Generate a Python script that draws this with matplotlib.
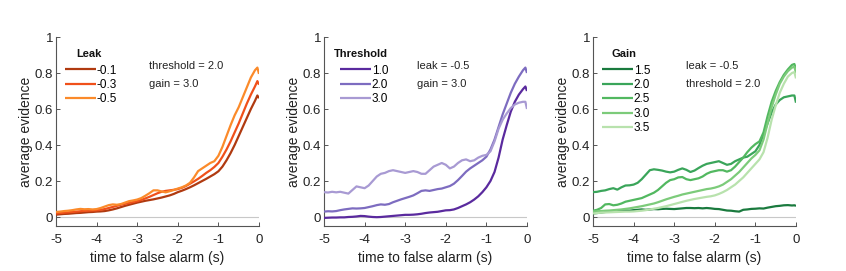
import numpy as np
import matplotlib
matplotlib.use("Agg")
import matplotlib.pyplot as plt

plt.rcParams['font.family'] = ['Liberation Sans', 'DejaVu Sans']
plt.rcParams['axes.unicode_minus'] = False

# time grid (s before false alarm)
t = np.concatenate([np.round(np.arange(-5.0, -0.05, 0.1), 2), [-0.04, 0.0]])

# ---- Panel 1: Leak (threshold = 2.0, gain = 3.0)
leak_labels = ["-0.1", "-0.3", "-0.5"]
leak_m01 = [0.013, 0.015, 0.017, 0.018, 0.020, 0.022, 0.023, 0.025, 0.027, 0.028,
            0.030, 0.031, 0.033, 0.037, 0.042, 0.048, 0.055, 0.062, 0.068, 0.074,
            0.080, 0.085, 0.090, 0.094, 0.098, 0.103, 0.108, 0.114, 0.120, 0.128,
            0.138, 0.146, 0.155, 0.165, 0.176, 0.188, 0.200, 0.212, 0.225, 0.238,
            0.254, 0.280, 0.315, 0.355, 0.400, 0.450, 0.500, 0.550, 0.600, 0.645,
            0.675, 0.660]
leak_m03 = [0.020, 0.022, 0.024, 0.026, 0.028, 0.030, 0.032, 0.034, 0.035, 0.036,
            0.037, 0.040, 0.044, 0.050, 0.056, 0.062, 0.068, 0.073, 0.078, 0.083,
            0.088, 0.095, 0.103, 0.112, 0.122, 0.132, 0.140, 0.145, 0.148, 0.151,
            0.155, 0.162, 0.172, 0.185, 0.198, 0.212, 0.228, 0.245, 0.260, 0.278,
            0.300, 0.335, 0.375, 0.420, 0.470, 0.520, 0.575, 0.630, 0.680, 0.725,
            0.755, 0.735]
leak_m05 = [0.028, 0.030, 0.033, 0.035, 0.038, 0.042, 0.045, 0.043, 0.044, 0.042,
            0.044, 0.050, 0.058, 0.066, 0.070, 0.068, 0.072, 0.080, 0.088, 0.092,
            0.097, 0.105, 0.118, 0.132, 0.148, 0.148, 0.142, 0.137, 0.143, 0.150,
            0.158, 0.165, 0.175, 0.190, 0.220, 0.255, 0.270, 0.285, 0.300, 0.310,
            0.340, 0.390, 0.450, 0.510, 0.565, 0.610, 0.665, 0.720, 0.775, 0.815,
            0.830, 0.795]

# ---- Panel 2: Threshold (leak = -0.5, gain = 3.0)
thr_labels = ["1.0", "2.0", "3.0"]
thr_10 = [-0.005, -0.004, -0.003, -0.003, -0.002, -0.002, 0.000, 0.001, 0.003, 0.006,
          0.005, 0.002, 0.000, -0.001, 0.000, 0.002, 0.004, 0.006, 0.008, 0.010,
          0.012, 0.012, 0.013, 0.015, 0.018, 0.022, 0.025, 0.027, 0.029, 0.033,
          0.037, 0.038, 0.042, 0.050, 0.060, 0.070, 0.082, 0.097, 0.115, 0.138,
          0.165, 0.200, 0.250, 0.330, 0.430, 0.510, 0.585, 0.640, 0.680, 0.710,
          0.725, 0.700]
thr_20 = [0.030, 0.032, 0.031, 0.033, 0.038, 0.042, 0.045, 0.048, 0.047, 0.048,
          0.050, 0.055, 0.060, 0.066, 0.070, 0.068, 0.072, 0.082, 0.090, 0.098,
          0.105, 0.112, 0.120, 0.132, 0.145, 0.148, 0.145, 0.150, 0.155, 0.158,
          0.165, 0.172, 0.185, 0.205, 0.228, 0.252, 0.270, 0.285, 0.300, 0.315,
          0.335, 0.375, 0.430, 0.500, 0.570, 0.630, 0.690, 0.740, 0.780, 0.815,
          0.830, 0.800]
thr_30 = [0.138, 0.136, 0.140, 0.137, 0.140, 0.135, 0.130, 0.150, 0.170, 0.165,
          0.160, 0.175, 0.200, 0.225, 0.240, 0.245, 0.255, 0.260, 0.255, 0.250,
          0.245, 0.250, 0.255, 0.250, 0.240, 0.240, 0.260, 0.280, 0.290, 0.300,
          0.290, 0.270, 0.280, 0.300, 0.315, 0.320, 0.310, 0.315, 0.330, 0.340,
          0.345, 0.365, 0.420, 0.490, 0.540, 0.575, 0.605, 0.625, 0.635, 0.640,
          0.640, 0.600]

# ---- Panel 3: Gain (leak = -0.5, threshold = 2.0)
gain_labels = ["1.5", "2.0", "2.5", "3.0", "3.5"]
gain_15 = [0.020, 0.022, 0.025, 0.028, 0.030, 0.030, 0.032, 0.035, 0.036, 0.035,
           0.038, 0.040, 0.042, 0.040, 0.042, 0.044, 0.043, 0.045, 0.046, 0.045,
           0.044, 0.046, 0.048, 0.050, 0.050, 0.049, 0.050, 0.048, 0.050, 0.048,
           0.045, 0.044, 0.040, 0.036, 0.035, 0.032, 0.030, 0.040, 0.042, 0.045,
           0.046, 0.048, 0.047, 0.052, 0.056, 0.060, 0.062, 0.065, 0.066, 0.064,
           0.065, 0.062]
gain_20 = [0.138, 0.140, 0.145, 0.148, 0.155, 0.160, 0.152, 0.165, 0.175, 0.176,
           0.180, 0.190, 0.210, 0.235, 0.260, 0.265, 0.262, 0.258, 0.252, 0.248,
           0.252, 0.262, 0.270, 0.262, 0.250, 0.258, 0.272, 0.285, 0.295, 0.300,
           0.305, 0.310, 0.300, 0.290, 0.295, 0.310, 0.320, 0.330, 0.335, 0.350,
           0.365, 0.400, 0.460, 0.520, 0.580, 0.625, 0.650, 0.665, 0.670, 0.675,
           0.675, 0.635]
gain_25 = [0.035, 0.040, 0.050, 0.070, 0.072, 0.065, 0.068, 0.075, 0.085, 0.090,
           0.095, 0.100, 0.105, 0.115, 0.125, 0.135, 0.150, 0.170, 0.190, 0.205,
           0.210, 0.220, 0.222, 0.210, 0.205, 0.210, 0.215, 0.225, 0.240, 0.250,
           0.255, 0.260, 0.260, 0.252, 0.260, 0.280, 0.305, 0.330, 0.360, 0.385,
           0.405, 0.420, 0.470, 0.560, 0.640, 0.700, 0.750, 0.790, 0.820, 0.845,
           0.850, 0.820]
gain_30 = [0.030, 0.032, 0.033, 0.035, 0.036, 0.038, 0.040, 0.042, 0.045, 0.048,
           0.052, 0.056, 0.060, 0.065, 0.070, 0.075, 0.082, 0.090, 0.098, 0.105,
           0.112, 0.118, 0.125, 0.130, 0.135, 0.140, 0.145, 0.150, 0.155, 0.158,
           0.163, 0.170, 0.180, 0.195, 0.210, 0.230, 0.250, 0.275, 0.300, 0.325,
           0.345, 0.370, 0.430, 0.520, 0.610, 0.680, 0.740, 0.780, 0.810, 0.830,
           0.835, 0.800]
gain_35 = [0.020, 0.022, 0.024, 0.025, 0.026, 0.027, 0.028, 0.029, 0.030, 0.030,
           0.031, 0.033, 0.035, 0.038, 0.042, 0.046, 0.050, 0.055, 0.060, 0.066,
           0.072, 0.078, 0.084, 0.090, 0.095, 0.100, 0.104, 0.108, 0.112, 0.115,
           0.120, 0.128, 0.138, 0.150, 0.165, 0.180, 0.200, 0.220, 0.245, 0.270,
           0.295, 0.320, 0.360, 0.440, 0.540, 0.620, 0.690, 0.740, 0.780, 0.800,
           0.805, 0.770]

panels = [
    dict(series=[leak_m01, leak_m03, leak_m05], labels=leak_labels, title="Leak",
         colors=["#b03a10", "#f0501a", "#fb8a2a"],
         notes=["threshold = 2.0", "gain = 3.0"], left=56, leg_x=0.044, title_x=0.160),
    dict(series=[thr_10, thr_20, thr_30], labels=thr_labels, title="Threshold",
         colors=["#5a2a9e", "#7d6cc0", "#a89ad3"],
         notes=["leak = -0.5", "gain = 3.0"], left=324, leg_x=0.079, title_x=0.182),
    dict(series=[gain_15, gain_20, gain_25, gain_30, gain_35], labels=gain_labels,
         title="Gain",
         colors=["#1a7a3e", "#3aa55a", "#52b860", "#7ccb7a", "#b8e2ad"],
         notes=["leak = -0.5", "threshold = 2.0"], left=593, leg_x=0.044, title_x=0.153),
]

W, H = 846, 271
fig = plt.figure(figsize=(W / 100, H / 100), dpi=100)

for p in panels:
    ax = fig.add_axes([p["left"] / W, (H - 226) / H, 203 / W, 189 / H])
    ax.axhline(0, color="#c8c8c8", lw=0.8, zorder=1)
    handles = []
    for y, lab, c in zip(p["series"], p["labels"], p["colors"]):
        h, = ax.plot(t, y, color=c, lw=1.6, label=lab, zorder=3,
                     solid_capstyle="butt")
        handles.append(h)
    ax.set_xlim(-5, 0)
    ax.set_ylim(-0.05, 1)
    ax.set_xticks([-5, -4, -3, -2, -1, 0])
    ax.set_xticklabels(["-5", "-4", "-3", "-2", "-1", "0"])
    ax.set_yticks([0, 0.2, 0.4, 0.6, 0.8, 1])
    ax.set_yticklabels(["0", "0.2", "0.4", "0.6", "0.8", "1"])
    for s in ["top", "right"]:
        ax.spines[s].set_visible(False)
    for s in ["left", "bottom"]:
        ax.spines[s].set_color("#555555")
        ax.spines[s].set_linewidth(0.8)
    ax.tick_params(direction="in", length=3, width=0.7, color="#555555",
                   labelsize=9.5, labelcolor="#222222")
    ax.tick_params(axis="x", pad=5.5)
    ax.tick_params(axis="y", pad=2)
    ax.set_xlabel("time to false alarm (s)", fontsize=10, color="#222222", labelpad=4)
    ax.set_ylabel("average evidence", fontsize=10, color="#222222", labelpad=1.5)
    ax.legend(handles=handles, loc="upper left",
              bbox_to_anchor=(p["leg_x"], 0.854), frameon=False,
              fontsize=8.5, handlelength=2.6, handletextpad=0.1,
              labelspacing=0.2, borderpad=0, borderaxespad=0)
    ax.text(p["title_x"], 0.91, p["title"], transform=ax.transAxes, fontsize=8,
            fontweight="bold", color="#111111", va="center", ha="center")
    ax.text(0.458, 0.845, p["notes"][0], transform=ax.transAxes, fontsize=8,
            color="#222222", va="center", ha="left")
    ax.text(0.458, 0.75, p["notes"][1], transform=ax.transAxes, fontsize=8,
            color="#222222", va="center", ha="left")

fig.savefig("out.png", dpi=100)
